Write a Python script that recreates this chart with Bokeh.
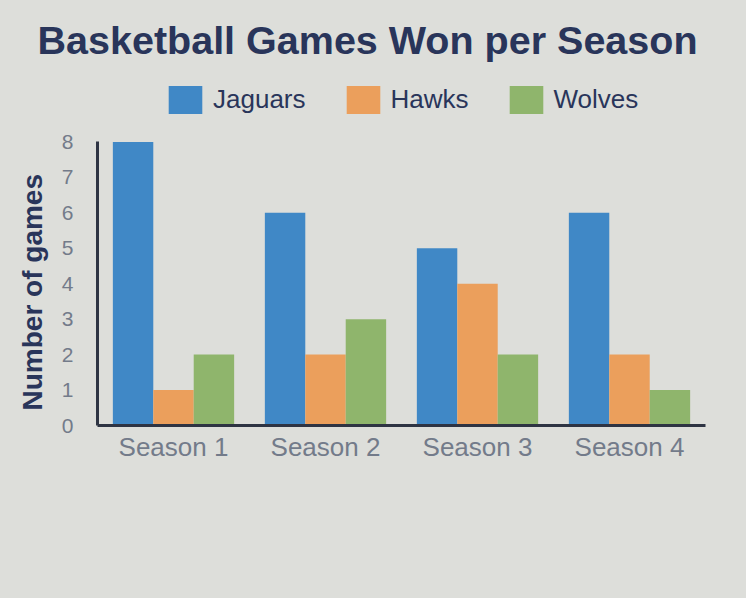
from bokeh.plotting import figure
from bokeh.models import FactorRange, Legend, LegendItem, ColumnDataSource, Title
from bokeh.transform import dodge
from bokeh.embed import file_html
from bokeh.resources import INLINE

seasons = ["Season 1", "Season 2", "Season 3", "Season 4"]
jaguars = [8, 6, 5, 6]
hawks = [1, 2, 4, 2]
wolves = [2, 3, 2, 1]
teams = ["Jaguars", "Hawks", "Wolves"]
colors = ["#4088c6", "#eb9f5c", "#8fb56c"]
y_ticks = [0, 1, 2, 3, 4, 5, 6, 7, 8]

src = ColumnDataSource(dict(season=seasons, Jaguars=jaguars, Hawks=hawks, Wolves=wolves))

BG = "#dddeda"
NAVY = "#29355a"
GRAY = "#737b8a"

p = figure(width=746, height=598, x_range=FactorRange(*seasons), y_range=(0, 9.735),
           output_backend="svg", toolbar_location=None,
           background_fill_color=BG, border_fill_color=BG,
           background_fill_alpha=0, border_fill_alpha=0,
           min_border_left=97, min_border_right=41, min_border_bottom=173, min_border_top=80)
p.styles = {"background-color": BG}
p.outline_line_color = None
p.grid.visible = False

offsets = [-0.266, 0.0, 0.266]
renderers = []
for t, c, o in zip(teams, colors, offsets):
    r = p.vbar(x=dodge("season", o, range=p.x_range), top=t, width=0.266, source=src,
               fill_color=c, line_color=None)
    renderers.append(r)

legend = Legend(items=[LegendItem(label=t, renderers=[r]) for t, r in zip(teams, renderers)],
                orientation="horizontal", location=(67, 308),
                glyph_width=42, glyph_height=35, label_text_font="Liberation Sans",
                label_text_font_size="26px", label_text_color=NAVY, spacing=36,
                label_standoff=7, padding=0, margin=0,
                background_fill_alpha=0, border_line_color=None)
p.add_layout(legend, "center")

p.title.text = "Basketball Games Won per Season"
p.title.text_font = "Liberation Sans"
p.title.text_font_size = "39.5px"
p.title.text_font_style = "bold"
p.title.text_color = NAVY
p.title.align = "left"
p.title.vertical_align = "top"
p.title.offset = -60
p.title.standoff = 34

for ax in (p.xaxis[0], p.yaxis[0]):
    ax.axis_line_width = 3
    ax.axis_line_color = "#2e3443"
    ax.major_tick_line_color = None
    ax.minor_tick_line_color = None
    ax.major_label_text_font = "Liberation Sans"
    ax.major_label_text_color = GRAY

p.yaxis.ticker = y_ticks
p.yaxis.bounds = (0, 8)
p.yaxis.major_label_text_font_size = "21px"
p.yaxis.major_label_standoff = 18

ylab = Title(text="Number of games", align="left", offset=15, standoff=22,
             text_font="Liberation Sans", text_font_size="28px", text_font_style="bold",
             text_color=NAVY)
p.add_layout(ylab, "left")

p.xaxis.major_label_text_font_size = "26px"
p.xaxis.major_label_standoff = 0

open("out.html", "w").write(file_html(p, INLINE))
